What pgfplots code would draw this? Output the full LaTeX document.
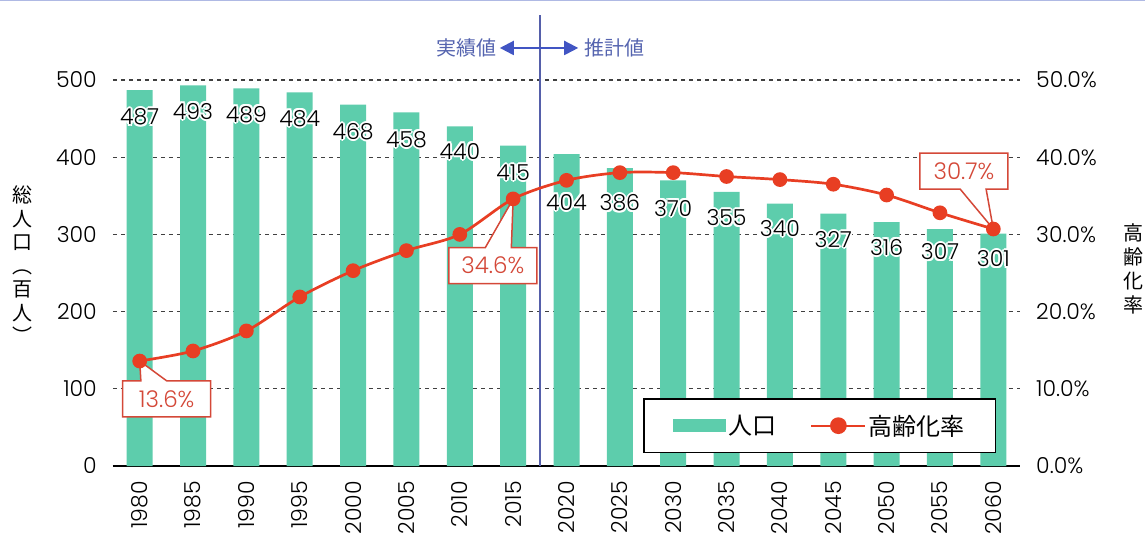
\documentclass[border=0pt]{standalone}
\usepackage{fontspec}
\usepackage{pgfplots}
\pgfplotsset{compat=1.18}
\usepackage{pgfplotstable}
\usetikzlibrary{arrows.meta,shapes.callouts}
\setmainfont{Noto Sans CJK JP}
\IfFontExistsTF{Poppins Light}{\newfontfamily\numfont{Poppins Light}}{\newfontfamily\numfont{Poppins}}

\definecolor{barteal}{RGB}{93,205,172}
\definecolor{linered}{RGB}{232,62,35}
\definecolor{calred}{RGB}{212,72,56}
\definecolor{divblue}{RGB}{85,95,170}
\definecolor{arrblue}{RGB}{65,85,195}
\definecolor{annblue}{RGB}{85,100,175}
\definecolor{topblue}{RGB}{175,185,228}

% white glow behind the bar labels
\newcommand\hl[3]{\rlap{\hspace*{#1}\raisebox{#2}{\textcolor{white}{#3}}}}
\newcommand\halo[1]{\hl{-2pt}{0pt}{#1}\hl{2pt}{0pt}{#1}\hl{0pt}{2pt}{#1}\hl{0pt}{-2pt}{#1}%
  \hl{-1.4pt}{1.4pt}{#1}\hl{1.4pt}{1.4pt}{#1}\hl{-1.4pt}{-1.4pt}{#1}\hl{1.4pt}{-1.4pt}{#1}#1}

\newcommand\numsize{\numfont\fontsize{22}{22}\selectfont}

\tikzset{pctbox/.style={rectangle callout, draw=calred, line width=1.5pt, fill=white,
    text=calred, font=\numfont\fontsize{23}{23}\selectfont,
    minimum width=88pt, minimum height=36pt, inner sep=0pt,
    callout pointer width=26pt}}

% i, year, population (hundreds), aging rate (%), label offset below bar top
\pgfplotstableread{
i year pop pct off
0 1980 487 13.6 27
1 1985 493 14.9 26
2 1990 489 17.5 26
3 1995 484 21.9 26
4 2000 468 25.3 27
5 2005 458 27.9 27
6 2010 440 30.0 25
7 2015 415 34.6 27
8 2020 404 37.0 48
9 2025 386 38.0 35
10 2030 370 38.0 28
11 2035 355 37.5 26
12 2040 340 37.1 25
13 2045 327 36.5 26
14 2050 316 35.1 25
15 2055 307 32.8 23
16 2060 301 30.7 25
}\data

\begin{document}
\begin{tikzpicture}
\path[use as bounding box] (-113pt,-84pt) rectangle (1032pt,466pt);
\draw[topblue, line width=3pt] (-113pt,466pt) -- (1032pt,466pt);

\begin{axis}[
  at={(0pt,0pt)}, anchor=south west,
  width=907pt, height=386pt, scale only axis,
  xmin=-0.5, xmax=16.5, ymin=0, ymax=500,
  clip=false,
  axis x line*=bottom, axis y line*=left,
  x axis line style={-, line width=2pt, black},
  y axis line style={draw=none},
  major tick length=0pt,
  xtick={0,...,16}, xticklabels from table={\data}{year},
  ytick={0,100,...,500},
  ymajorgrids,
  grid style={black!75, line width=1.1pt, dash pattern=on 4pt off 4pt},
  /pgf/number format/assume math mode=true,
  xticklabel style={font=\numsize, yshift=-15pt, rotate=90, anchor=east, inner sep=0pt},
  yticklabel style={font=\numsize, anchor=east, inner sep=0pt, xshift=-16pt},
  ylabel={総\\人\\口\\︵\\百\\人\\︶},
  ylabel style={at={(axis description cs:-0.1003,0.521)}, rotate=-90, anchor=center,
    align=center, font=\fontsize{20}{23.5}\selectfont},
]
\addplot[ybar, bar width=26pt, fill=barteal, draw=none,
  visualization depends on={\thisrow{off} \as \labeloff},
  nodes near coords={\halo{\pgfmathprintnumber{\pgfplotspointmeta}}},
  every node near coord/.append style={anchor=center, yshift={-1pt*\labeloff},
    font=\numsize, text=black, inner sep=0pt}]
  table[x=i, y=pop]{\data};

\draw[divblue, line width=1.8pt] (axis cs:7.5,0) -- (axis cs:7.5,584);
\draw[arrblue, line width=2pt, {Triangle[length=14pt,width=14pt]}-{Triangle[length=14pt,width=14pt]}]
  (axis cs:6.75,541.5) -- (axis cs:8.22,541.5);
\node[anchor=east, text=annblue, font=\fontsize{20}{20}\selectfont, inner sep=0pt]
  at (axis cs:6.69,541.5) {実績値};
\node[anchor=west, text=annblue, font=\fontsize{20}{20}\selectfont, inner sep=0pt]
  at (axis cs:8.33,541.5) {推計値};
\end{axis}

\begin{axis}[
  at={(0pt,0pt)}, anchor=south west,
  width=907pt, height=386pt, scale only axis,
  xmin=-0.5, xmax=16.5, ymin=0, ymax=50,
  clip=false,
  axis x line=none, xtick=\empty,
  axis y line*=right,
  y axis line style={draw=none},
  major tick length=0pt,
  ytick={0,10,...,50},
  /pgf/number format/assume math mode=true,
  yticklabel={\pgfmathprintnumber[fixed,fixed zerofill,precision=1]{\tick}\%},
  yticklabel style={font=\numsize, anchor=west, inner sep=0pt, xshift=16pt},
  ylabel={高\\齢\\化\\率},
  ylabel style={at={(axis description cs:1.1246,0.510)}, rotate=-90, anchor=center,
    align=center, font=\fontsize{20}{24}\selectfont},
  legend columns=2,
  legend style={at={(axis description cs:0.5844,0.176)}, anchor=north west,
    draw=black, line width=1.5pt, fill=white, inner xsep=29pt, inner ysep=14pt,
    font=\fontsize{24}{24}\selectfont,
    /tikz/every even column/.append style={column sep=32pt}},
  legend cell align=left,
]
\addlegendimage{legend image code/.code={\fill[barteal] (0pt,-6pt) rectangle (52pt,6pt);}}
\addplot[linered, line width=2.7pt, smooth, mark=*, mark size=6pt,
  mark options={fill=linered, draw=none},
  legend image code/.code={\draw[linered, line width=2.2pt] (0pt,0pt) -- (54pt,0pt);
    \fill[linered] (27pt,0pt) circle (7pt);}]
  table[x=i, y=pct]{\data};
\legend{人口,高齢化率}

\node[pctbox, callout absolute pointer={(axis cs:0,13.6)}] at (axis cs:0.506,8.68) {13.6\%};
\node[pctbox, callout absolute pointer={(axis cs:7,34.6)}] at (axis cs:6.62,25.97) {34.6\%};
\node[pctbox, callout absolute pointer={(axis cs:16,30.7)}] at (axis cs:15.45,38.21) {30.7\%};
\end{axis}
\end{tikzpicture}
\end{document}
